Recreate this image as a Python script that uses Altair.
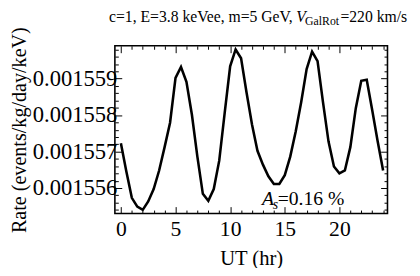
import altair as alt
import pandas as pd

# UT hours (sampled every half hour)
hours = [0.0, 0.5, 1.0, 1.5, 2.0, 2.5, 3.0, 3.5, 4.0, 4.5, 5.0, 5.5, 6.0, 6.5,
         7.0, 7.5, 8.0, 8.5, 9.0, 9.5, 10.0, 10.5, 11.0, 11.5, 12.0, 12.5,
         13.0, 13.5, 14.0, 14.5, 15.0, 15.5, 16.0, 16.5, 17.0, 17.5, 18.0,
         18.5, 19.0, 19.5, 20.0, 20.5, 21.0, 21.5, 22.0, 22.5, 23.0, 23.5, 24.0]

# Rate (events/kg/day/keV)
rates = [0.00155723, 0.00155645, 0.00155573, 0.00155549, 0.00155540, 0.00155563,
         0.00155597, 0.00155648, 0.00155712, 0.00155779, 0.00155902, 0.00155932,
         0.00155891, 0.00155801, 0.00155686, 0.00155584, 0.00155565, 0.00155597,
         0.00155675, 0.00155806, 0.00155934, 0.00155980, 0.00155956, 0.00155862,
         0.00155774, 0.00155702, 0.00155664, 0.00155632, 0.00155611, 0.00155611,
         0.00155635, 0.00155686, 0.00155755, 0.00155835, 0.00155926, 0.00155974,
         0.00155948, 0.00155835, 0.00155728, 0.00155659, 0.00155640, 0.00155648,
         0.00155712, 0.00155819, 0.00155894, 0.00155897, 0.00155814, 0.00155728,
         0.00155648]

x_tick_values = list(range(0, 25))
y_tick_values = [0.0015554, 0.0015556, 0.0015558, 0.0015560, 0.0015562, 0.0015564,
                 0.0015566, 0.0015568, 0.0015570, 0.0015572, 0.0015574, 0.0015576,
                 0.0015578, 0.0015580, 0.0015582, 0.0015584, 0.0015586, 0.0015588,
                 0.0015590, 0.0015592, 0.0015594, 0.0015596, 0.0015598]

title_main = "c=1, E=3.8 keVee, m=5 GeV,"
title_v = "V"
title_sub = "GalRot"
title_end = "=220 km/s"
ann_a = "A"
ann_s = "s"
ann_end = "=0.16 %"

FONT = "Liberation Serif"

df = pd.DataFrame({"UT": hours, "Rate": rates})

xscale = alt.Scale(domain=[-0.55, 24.4], nice=False, zero=False)
yscale = alt.Scale(domain=[0.0015553, 0.0015599], nice=False, zero=False)

x_major = "datum.value % 5 === 0"
y_major = "abs(datum.value*1e6 - round(datum.value*1e6)) < 0.01"

x_tick = alt.ExprRef(expr=f"{x_major} ? -7 : -3.5")
y_tick = alt.ExprRef(expr=f"{y_major} ? -7 : -3.5")

common_axis = dict(grid=False, domain=False, tickColor="black", tickWidth=1,
                   labelColor="black", labelFont=FONT,
                   titleFont=FONT, titleFontWeight="normal",
                   titleColor="black")

base = alt.Chart(df)

main = base.mark_line(color="black", strokeWidth=2.6).encode(
    x=alt.X("UT:Q", scale=xscale,
            axis=alt.Axis(orient="bottom", values=x_tick_values,
                          labelExpr=f"{x_major} ? datum.label : ''",
                          labelFontSize=22, titleFontSize=21,
                          tickSize=x_tick, labelPadding=12, labelFlush=False,
                          title="UT (hr)", titlePadding=9, **common_axis)),
    y=alt.Y("Rate:Q", scale=yscale,
            axis=alt.Axis(orient="left", values=y_tick_values,
                          labelExpr=f"{y_major} ? format(datum.value, '.6f') : ''",
                          labelFontSize=23, titleFontSize=20.5,
                          tickSize=y_tick, labelPadding=5, labelFlush=False,
                          title="Rate (events/kg/day/keV)", titlePadding=3,
                          **common_axis)),
)

frame2 = base.mark_line(opacity=0).encode(
    x=alt.X("UT:Q", scale=xscale,
            axis=alt.Axis(orient="top", values=x_tick_values, labels=False,
                          tickSize=x_tick, title=None, **common_axis)),
    y=alt.Y("Rate:Q", scale=yscale,
            axis=alt.Axis(orient="right", values=y_tick_values, labels=False,
                          tickSize=y_tick, title=None, **common_axis)),
)


def txt(s, x, y, size, italic=False, align="left"):
    return alt.Chart(pd.DataFrame({"t": [s]})).mark_text(
        align=align, baseline="alphabetic", font=FONT, fontSize=size,
        fontStyle="italic" if italic else "normal", color="black"
    ).encode(x=alt.value(x), y=alt.value(y), text="t:N")


texts = [
    txt(title_main, -6, -24, 16),
    txt(title_v, 185, -24, 16, italic=True),
    txt(title_sub, 194, -21, 12),
    txt(title_end, 230, -24, 16),
    txt(ann_a, 150, 162, 20, italic=True),
    txt(ann_s, 161, 166, 14, italic=True),
    txt(ann_end, 166, 162, 20),
]

chart = alt.layer(main, frame2, *texts).resolve_axis(
    x="independent", y="independent"
).properties(
    width=278, height=171,
    autosize=alt.AutoSizeParams(type="none"),
    padding={"left": 109, "top": 36, "right": 25, "bottom": 53},
    background="white",
).configure_view(stroke="black", strokeWidth=1.6).configure_text(font=FONT)

chart.save("out.html", embed_options={"renderer": "svg", "actions": False})
